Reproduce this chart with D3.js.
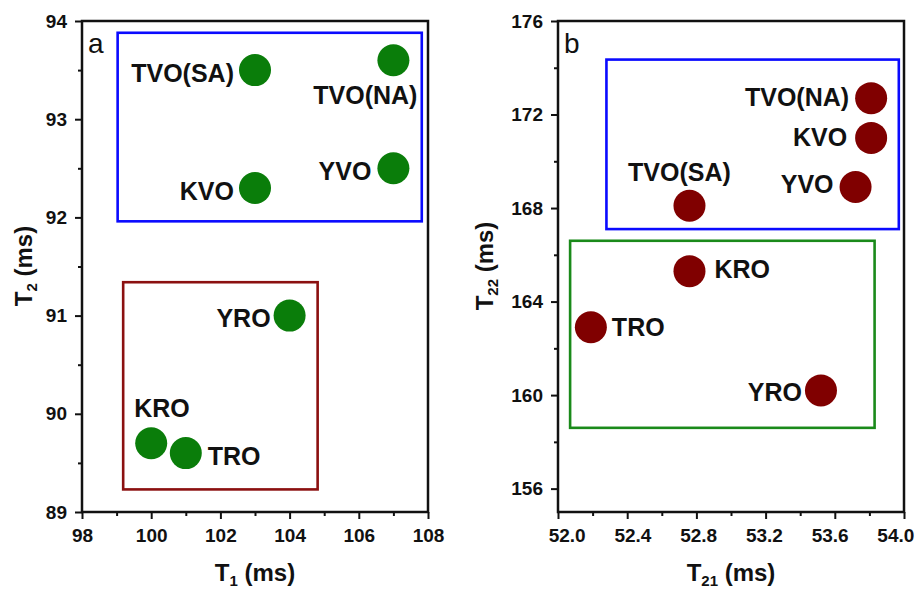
<!DOCTYPE html>
<html>
<head>
<meta charset="utf-8">
<script src="https://cdn.jsdelivr.net/npm/d3@7"></script>
<style>
  body { margin: 0; background: #fff; }
  svg { font-family: "Liberation Sans", Arial, sans-serif; }
  .tick text { font-weight: bold; font-size: 19px; fill: #111; }
  .pt-label { font-weight: bold; font-size: 25px; fill: #111; }
  .ax-title { font-weight: bold; font-size: 24px; fill: #111; }
  .panel-tag { font-size: 28px; fill: #111; }
</style>
</head>
<body>
<div id="chart"></div>
<script>
// ---- data, panel a (T1 vs T2) ----
const namesA = ["TVO(SA)", "TVO(NA)", "KVO", "YVO", "YRO", "KRO", "TRO"];
const t1 = [103, 107, 103, 107, 104, 100, 101];
const t2 = [93.5, 93.6, 92.3, 92.5, 91.0, 89.7, 89.6];
const xTicksA = [98, 100, 102, 104, 106, 108];
const yTicksA = [89, 90, 91, 92, 93, 94];

// ---- data, panel b (T21 vs T22) ----
const namesB = ["TVO(NA)", "KVO", "YVO", "TVO(SA)", "KRO", "TRO", "YRO"];
const t21 = [53.81, 53.81, 53.72, 52.76, 52.76, 52.19, 53.52];
const t22 = [172.7, 171.0, 168.9, 168.1, 165.3, 162.9, 160.2];
const xTicksB = [52.0, 52.4, 52.8, 53.2, 53.6, 54.0];
const yTicksB = [156, 160, 164, 168, 172, 176];

// group boxes [x0, x1, y0, y1] in data units
const boxesA = [[99.03, 107.82, 91.96, 93.88], [99.19, 104.81, 89.23, 91.34]];
const boxesB = [[52.28, 53.97, 167.1, 174.35], [52.07, 53.83, 158.6, 166.6]];

// label placement (pixels from the point centre)
const placeA = {
  "TVO(SA)": ["end", -21, 12], "TVO(NA)": ["end", 24, 44], "KVO": ["end", -21, 12],
  "YVO": ["end", -22, 12], "YRO": ["end", -19, 11], "KRO": ["start", -17, -26],
  "TRO": ["start", 22, 12]
};
const placeB = {
  "TVO(NA)": ["end", -22, 8], "KVO": ["end", -24, 8], "YVO": ["end", -22, 6],
  "TVO(SA)": ["middle", -10, -25], "KRO": ["start", 25, 7], "TRO": ["start", 21, 9],
  "YRO": ["end", -19, 11]
};

const W = 919, H = 594;
const svg = d3.select("#chart").append("svg").attr("width", W).attr("height", H);

function drawPanel(opt) {
  const x = d3.scaleLinear().domain(opt.xDomain).range([opt.left, opt.left + 346]);
  const y = d3.scaleLinear().domain(opt.yDomain).range([512, 21]);
  const g = svg.append("g");

  // minor ticks
  g.append("g").attr("transform", "translate(0,512)")
    .call(d3.axisBottom(x).tickValues(opt.xMinor).tickSize(4).tickFormat(""))
    .call(a => a.select(".domain").remove())
    .selectAll("line").attr("stroke", "#111").attr("stroke-width", 2);
  g.append("g").attr("transform", `translate(${opt.left},0)`)
    .call(d3.axisLeft(y).tickValues(opt.yMinor).tickSize(4).tickFormat(""))
    .call(a => a.select(".domain").remove())
    .selectAll("line").attr("stroke", "#111").attr("stroke-width", 2);

  // major axes
  const xa = g.append("g").attr("transform", "translate(0,512)")
    .call(d3.axisBottom(x).tickValues(opt.xTicks).tickSize(7).tickPadding(10)
      .tickFormat(opt.xFormat));
  const ya = g.append("g").attr("transform", `translate(${opt.left},0)`)
    .call(d3.axisLeft(y).tickValues(opt.yTicks).tickSize(7).tickPadding(8)
      .tickFormat(d3.format("d")));
  [xa, ya].forEach(a => {
    a.select(".domain").remove();
    a.selectAll("line").attr("stroke", "#111").attr("stroke-width", 2);
  });
  // labels in panel b sit slightly pulled toward the middle
  const mid = opt.left + 173;
  xa.selectAll(".tick text")
    .attr("dx", d => (mid - x(d)) * (1 - opt.labelSqueeze));

  // frame
  g.append("rect")
    .attr("x", opt.left).attr("y", 21).attr("width", 346).attr("height", 491)
    .attr("fill", "none").attr("stroke", "#111").attr("stroke-width", 2.5);

  // group boxes
  g.selectAll(".grp").data(opt.boxes).join("rect")
    .attr("x", d => x(d[0])).attr("y", d => y(d[3]))
    .attr("width", d => x(d[1]) - x(d[0])).attr("height", d => y(d[2]) - y(d[3]))
    .attr("fill", "none").attr("stroke", (d, i) => opt.boxColors[i]).attr("stroke-width", 2.6);

  const pts = opt.names.map((n, i) => ({ name: n, xv: opt.xs[i], yv: opt.ys[i] }));

  g.selectAll(".pt").data(pts).join("circle")
    .attr("cx", d => x(d.xv)).attr("cy", d => y(d.yv)).attr("r", 16)
    .attr("fill", opt.color);

  g.selectAll(".pt-label").data(pts).join("text")
    .attr("class", "pt-label")
    .attr("x", d => x(d.xv) + opt.place[d.name][1])
    .attr("y", d => y(d.yv) + opt.place[d.name][2])
    .attr("text-anchor", d => opt.place[d.name][0])
    .text(d => d.name);

  g.append("text").attr("class", "panel-tag")
    .attr("x", opt.left + 6).attr("y", 53).text(opt.tag);

  // axis titles
  const xt = g.append("text").attr("class", "ax-title")
    .attr("x", mid).attr("y", 581).attr("text-anchor", "middle");
  xt.append("tspan").text("T");
  xt.append("tspan").attr("font-size", "15px").attr("dy", 5).text(opt.sub[0]);
  xt.append("tspan").attr("dy", -5).text(" (ms)");

  const yt = g.append("text").attr("class", "ax-title")
    .attr("transform", `translate(${opt.left - opt.yTitleGap},266) rotate(-90)`)
    .attr("text-anchor", "middle");
  yt.append("tspan").text("T");
  yt.append("tspan").attr("font-size", "15px").attr("dy", 5).text(opt.sub[1]);
  yt.append("tspan").attr("dy", -5).text(" (ms)");
}

drawPanel({
  left: 82, tag: "a", yTitleGap: 50, labelSqueeze: 1,
  xDomain: [98, 108], yDomain: [89, 94],
  xTicks: xTicksA, yTicks: yTicksA,
  xMinor: d3.range(99, 108, 2), yMinor: d3.range(89.5, 94, 1),
  xFormat: d3.format("d"),
  names: namesA, xs: t1, ys: t2, place: placeA,
  boxes: boxesA, boxColors: ["#0a0aff", "#8b1010"],
  color: "#0a7d0a", sub: ["1", "2"]
});

drawPanel({
  left: 558, tag: "b", yTitleGap: 65, labelSqueeze: 0.95,
  xDomain: [52.0, 54.0], yDomain: [155, 176],
  xTicks: xTicksB, yTicks: yTicksB,
  xMinor: [52.2, 52.6, 53.0, 53.4, 53.8], yMinor: [158, 162, 166, 170, 174],
  xFormat: d3.format(".1f"),
  names: namesB, xs: t21, ys: t22, place: placeB,
  boxes: boxesB, boxColors: ["#0a0aff", "#1a8a1a"],
  color: "#800000", sub: ["21", "22"]
});
</script>
</body>
</html>
